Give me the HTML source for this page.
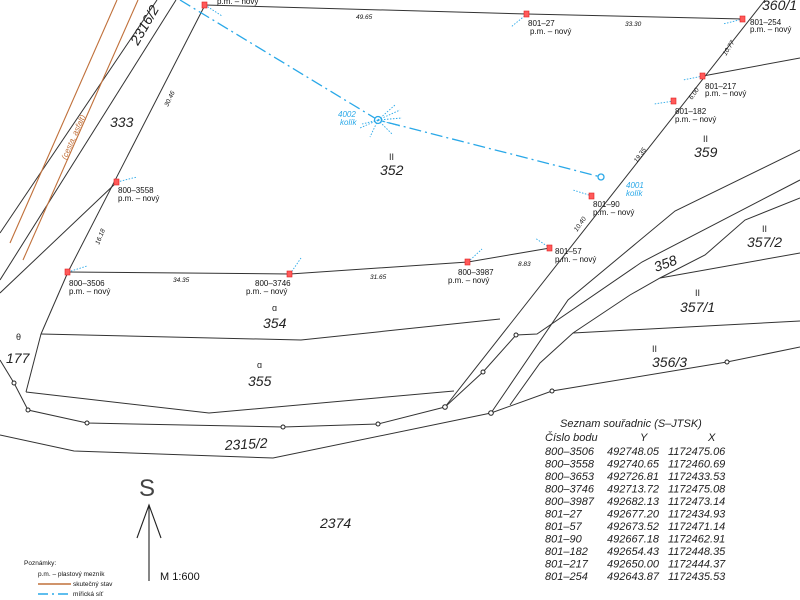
<!DOCTYPE html>
<html><head><meta charset="utf-8"><style>
html,body{margin:0;padding:0;background:#fff;}
svg{display:block;}
text{font-family:"Liberation Sans",sans-serif;}
.it{font-style:italic;}
</style></head><body>
<svg width="800" height="600" viewBox="0 0 800 600" xmlns="http://www.w3.org/2000/svg">
<g fill="none" stroke="#333" stroke-width="1">
<line x1="157" y1="0" x2="0" y2="233"/>
<line x1="176" y1="0" x2="0" y2="280"/>
<line x1="205" y1="5" x2="68" y2="272"/>
<line x1="117" y1="182" x2="0" y2="293"/>
<line x1="68" y1="272" x2="41" y2="334"/>
<line x1="41" y1="334" x2="26" y2="392"/>
<polyline points="205,5 527,14 743,19"/>
<line x1="765" y1="0" x2="445" y2="407"/>
<line x1="703" y1="76" x2="800" y2="58"/>
<polyline points="68,272 290,274 468,262 550,248"/>
<polyline points="41,334 301,340 500,319"/>
<polyline points="26,392 209,413 454,391"/>
<polyline points="0,360 14,383 28,410 87,423 283,427 378,424 445,407"/>
<polyline points="0,435 74,451 273,458 491,413 552,391 727,362 800,347"/>
<polyline points="445,407 483,372 516,335 537,334 642,262 800,180"/>
<polyline points="491,413 568,300 675,211 800,150"/>
<polyline points="510,405 540,363 573,333 630,295 660,278 705,255 745,220 800,198"/>
<line x1="660" y1="278" x2="800" y2="253"/>
<line x1="573" y1="333" x2="800" y2="321"/>
</g>
<g stroke="#c0703a" stroke-width="1.1">
<line x1="117" y1="0" x2="10" y2="243"/>
<line x1="138" y1="0" x2="23" y2="260"/>
</g>
<text x="0" y="0" font-size="8" fill="#c0703a" class="it" transform="translate(66,160) rotate(-66)">(cesta, asfalt)</text>
<g stroke="#29a8e8" stroke-width="1.3" fill="none">
<polyline points="180,0 378,120 601,177" stroke-dasharray="12,4,2,4"/>
<circle cx="378" cy="120" r="3.5" fill="#fff"/>
<circle cx="601" cy="177" r="3" fill="#fff"/>
</g>
<g stroke="#29a8e8" stroke-width="0.9" stroke-dasharray="1.5,1.5">
<line x1="378" y1="120" x2="400" y2="110"/><line x1="378" y1="120" x2="402" y2="118"/>
<line x1="378" y1="120" x2="400" y2="126"/><line x1="378" y1="120" x2="392" y2="134"/>
<line x1="378" y1="120" x2="370" y2="137"/><line x1="378" y1="120" x2="360" y2="128"/>
<line x1="378" y1="120" x2="362" y2="124"/><line x1="378" y1="120" x2="395" y2="105"/>
<line x1="205" y1="5" x2="222" y2="16"/><line x1="527" y1="14" x2="511" y2="27"/>
<line x1="743" y1="19" x2="723" y2="24"/><line x1="703" y1="76" x2="683" y2="80"/>
<line x1="674" y1="101" x2="654" y2="104"/><line x1="592" y1="196" x2="573" y2="190"/>
<line x1="550" y1="248" x2="535" y2="238"/><line x1="468" y1="262" x2="482" y2="249"/>
<line x1="290" y1="274" x2="301" y2="258"/><line x1="68" y1="272" x2="87" y2="266"/>
<line x1="117" y1="182" x2="137" y2="177"/>
</g>
<g fill="#ff5a5a" stroke="#e02020" stroke-width="0.6">
<rect x="202" y="2" width="5" height="6"/><rect x="524" y="11" width="5" height="6"/>
<rect x="740" y="16" width="5" height="6"/><rect x="700" y="73" width="5" height="6"/>
<rect x="671" y="98" width="5" height="6"/><rect x="589" y="193" width="5" height="6"/>
<rect x="547" y="245" width="5" height="6"/><rect x="465" y="259" width="5" height="6"/>
<rect x="287" y="271" width="5" height="6"/><rect x="65" y="269" width="5" height="6"/>
<rect x="114" y="179" width="5" height="6"/>
</g>
<g fill="#fff" stroke="#222" stroke-width="1">
<circle cx="14" cy="383" r="2"/><circle cx="28" cy="410" r="2"/><circle cx="87" cy="423" r="2"/>
<circle cx="283" cy="427" r="2"/><circle cx="378" cy="424" r="2"/><circle cx="445" cy="407" r="2.3"/>
<circle cx="491" cy="413" r="2.3"/><circle cx="552" cy="391" r="2"/><circle cx="727" cy="362" r="2"/>
<circle cx="483" cy="372" r="2"/><circle cx="516" cy="335" r="2"/>
</g>
<g font-size="8" fill="#111">
<text x="217" y="4">p.m. – nový</text>
<text x="528" y="26">801–27</text><text x="530" y="34">p.m. – nový</text>
<text x="750" y="25">801–254</text><text x="750" y="32">p.m. – nový</text>
<text x="705" y="89">801–217</text><text x="705" y="96">p.m. – nový</text>
<text x="675" y="114">801–182</text><text x="675" y="122">p.m. – nový</text>
<text x="593" y="207">801–90</text><text x="593" y="215">p.m. – nový</text>
<text x="555" y="254">801–57</text><text x="555" y="262">p.m. – nový</text>
<text x="458" y="275">800–3987</text><text x="448" y="283">p.m. – nový</text>
<text x="255" y="286">800–3746</text><text x="246" y="294">p.m. – nový</text>
<text x="69" y="286">800–3506</text><text x="69" y="294">p.m. – nový</text>
<text x="118" y="193">800–3558</text><text x="118" y="201">p.m. – nový</text>
</g>
<g font-size="6.5" fill="#111" class="it">
<text x="356" y="19">49.65</text><text x="625" y="26">33.30</text>
<text x="173" y="282">34.35</text><text x="370" y="279">31.65</text><text x="518" y="266">8.83</text>
<text transform="translate(726,56) rotate(-58)">10.77</text>
<text transform="translate(692,100) rotate(-55)">6.00</text>
<text transform="translate(637,163) rotate(-55)">19.35</text>
<text transform="translate(577,232) rotate(-55)">10.40</text>
<text transform="translate(99,245) rotate(-68)">16.18</text>
<text transform="translate(168,107) rotate(-65)">30.46</text>
</g>
<g font-size="8" fill="#29a8e8" class="it">
<text x="338" y="117">4002</text><text x="340" y="125">kolík</text>
<text x="626" y="188">4001</text><text x="626" y="196">kolík</text>
</g>
<g font-size="14" fill="#222" class="it">
<text x="110" y="127">333</text><text x="380" y="175">352</text><text x="694" y="157">359</text>
<text x="747" y="247">357/2</text><text x="680" y="312">357/1</text><text x="652" y="367">356/3</text>
<text x="263" y="328">354</text><text x="248" y="386">355</text><text x="6" y="363">177</text>
<text x="320" y="528">2374</text>
<text transform="translate(225,450) rotate(-3)">2315/2</text>
<text transform="translate(656,272) rotate(-20)">358</text>
<text transform="translate(138,46) rotate(-60)">2316/2</text>
<text x="762" y="10">360/1</text>
</g>
<g font-size="9" fill="#222">
<text x="389" y="160">II</text><text x="703" y="142">II</text><text x="762" y="232">II</text>
<text x="695" y="296">II</text><text x="652" y="352">II</text>
<text x="272" y="311">ɑ</text><text x="257" y="368">ɑ</text><text x="16" y="340">θ</text>
</g>
<g font-size="11" fill="#222" class="it">
<text x="560" y="427">Seznam souřadnic (S–JTSK)</text>
<text x="545" y="441">Číslo bodu</text><text x="640" y="441">Y</text><text x="708" y="441">X</text>
<text x="545" y="455">800–3506</text><text x="607" y="455">492748.05</text><text x="668" y="455">1172475.06</text>
<text x="545" y="467.5">800–3558</text><text x="607" y="467.5">492740.65</text><text x="668" y="467.5">1172460.69</text>
<text x="545" y="480">800–3653</text><text x="607" y="480">492726.81</text><text x="668" y="480">1172433.53</text>
<text x="545" y="492.5">800–3746</text><text x="607" y="492.5">492713.72</text><text x="668" y="492.5">1172475.08</text>
<text x="545" y="505">800–3987</text><text x="607" y="505">492682.13</text><text x="668" y="505">1172473.14</text>
<text x="545" y="517.5">801–27</text><text x="607" y="517.5">492677.20</text><text x="668" y="517.5">1172434.93</text>
<text x="545" y="530">801–57</text><text x="607" y="530">492673.52</text><text x="668" y="530">1172471.14</text>
<text x="545" y="542.5">801–90</text><text x="607" y="542.5">492667.18</text><text x="668" y="542.5">1172462.91</text>
<text x="545" y="555">801–182</text><text x="607" y="555">492654.43</text><text x="668" y="555">1172448.35</text>
<text x="545" y="567.5">801–217</text><text x="607" y="567.5">492650.00</text><text x="668" y="567.5">1172444.37</text>
<text x="545" y="580">801–254</text><text x="607" y="580">492643.87</text><text x="668" y="580">1172435.53</text>
</g>
<text x="139" y="496" font-size="24" fill="#444">S</text>
<g stroke="#222" stroke-width="1.1" fill="none">
<line x1="149" y1="505" x2="149" y2="581"/>
<polyline points="137,538 149,505 161,538"/>
</g>
<text x="160" y="580" font-size="11" fill="#111">M  1:600</text>
<g font-size="6.5" fill="#111">
<text x="24" y="565">Poznámky:</text>
<text x="38" y="576">p.m. – plastový mezník</text>
<text x="73" y="586">skutečný stav</text>
<text x="73" y="596">mířická síť</text>
</g>
<line x1="38" y1="584" x2="71" y2="584" stroke="#c0703a" stroke-width="1.4"/>
<line x1="38" y1="594" x2="71" y2="594" stroke="#29a8e8" stroke-width="1.4" stroke-dasharray="10,4,2,4"/>
</svg>
</body></html>
